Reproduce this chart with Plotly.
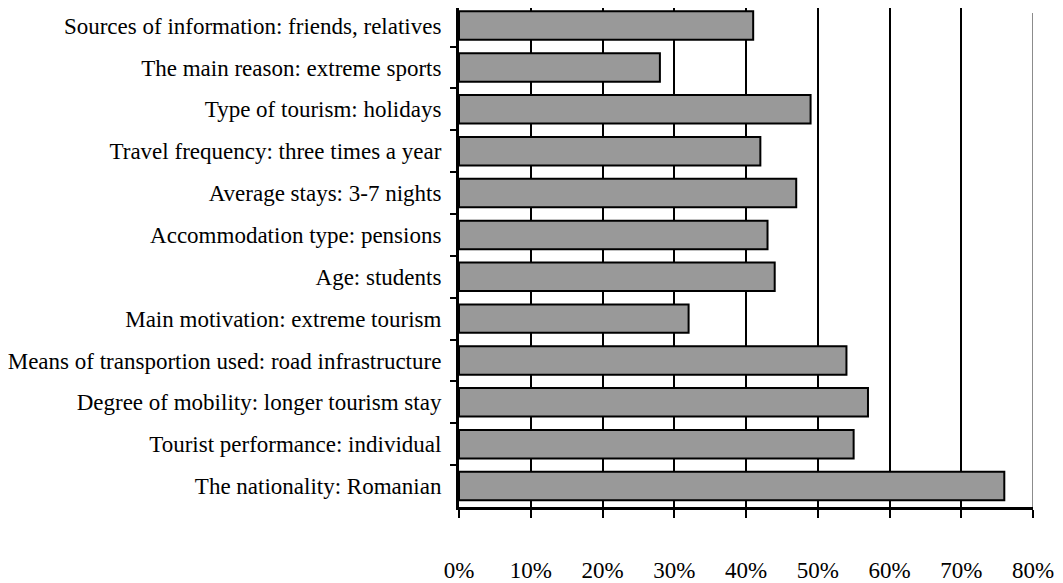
import plotly.graph_objects as go

categories = [
    "Sources of information: friends, relatives",
    "The main reason: extreme sports",
    "Type of tourism: holidays",
    "Travel frequency: three times a year",
    "Average stays: 3-7 nights",
    "Accommodation type: pensions",
    "Age: students",
    "Main motivation: extreme tourism",
    "Means of transportion used: road infrastructure",
    "Degree of mobility: longer tourism stay",
    "Tourist performance: individual",
    "The nationality: Romanian",
]
values = [41, 28, 49, 42, 47, 43, 44, 32, 54, 57, 55, 76]
x_ticks = [0, 10, 20, 30, 40, 50, 60, 70, 80]
x_tick_labels = [f"{v}%" for v in x_ticks]

FONT = "Liberation Serif, Times New Roman, serif"

fig = go.Figure()
fig.add_trace(go.Bar(
    x=values,
    y=categories,
    orientation="h",
    width=0.68,
    marker=dict(color="#999999", line=dict(color="black", width=2)),
    showlegend=False,
    hoverinfo="x+y",
))

# right-most gridline at 80% drawn in gray
fig.add_shape(type="line", xref="x", yref="paper", x0=x_ticks[-1], x1=x_ticks[-1],
              y0=0, y1=0.99, line=dict(color="#8c8c8c", width=2), layer="below")

fig.update_layout(
    width=1055, height=575,
    margin=dict(l=450, r=30, t=0, b=59),
    paper_bgcolor="white", plot_bgcolor="white",
    font=dict(family=FONT, size=23, color="black"),
    bargap=0.32,
)
fig.update_xaxes(
    range=[0, 80],
    tickvals=x_ticks,
    ticktext=x_tick_labels,
    showgrid=True, gridcolor="black", gridwidth=2,
    zeroline=False,
    showline=True, linecolor="black", linewidth=3,
    ticks="outside", ticklen=8, tickwidth=2, tickcolor="black",
    ticklabelstandoff=32,
    tickfont=dict(family=FONT, size=23, color="black"),
)
fig.update_yaxes(
    categoryorder="array", categoryarray=categories,
    range=[len(categories) - 0.5, -0.42],
    showgrid=False,
    showline=True, linecolor="black", linewidth=3,
    ticks="outside", ticklen=6, tickwidth=2, tickcolor="black",
    tickson="boundaries",
    ticklabelstandoff=10,
    tickfont=dict(family=FONT, size=23, color="black"),
)

fig.write_html("out.html")
